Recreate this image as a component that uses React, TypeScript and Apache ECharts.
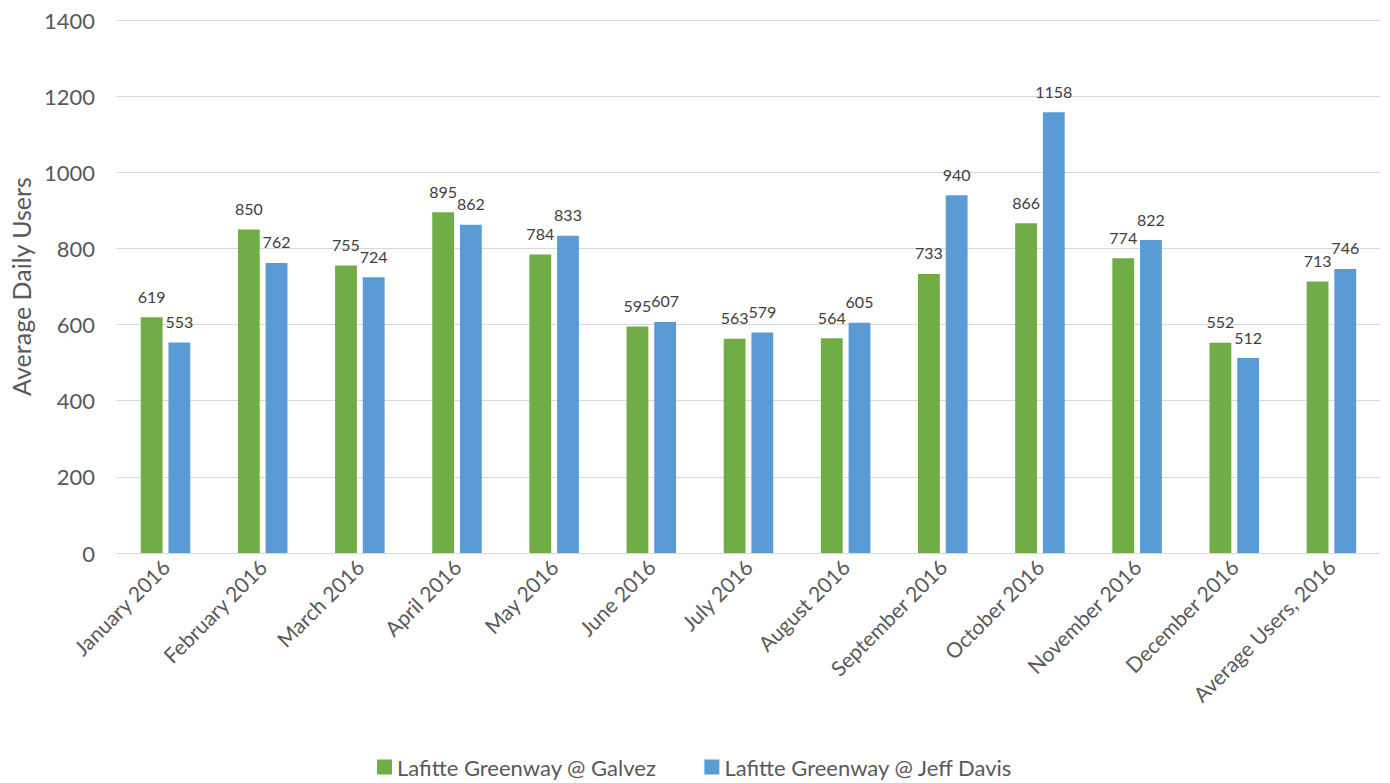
import React, { useEffect, useRef } from "react";
import * as echarts from "echarts";

const categories = [
  "January 2016", "February 2016", "March 2016", "April 2016", "May 2016", "June 2016",
  "July 2016", "August 2016", "September 2016", "October 2016", "November 2016",
  "December 2016", "Average Users, 2016",
];
const galvez = [619, 850, 755, 895, 784, 595, 563, 564, 733, 866, 774, 552, 713];
const jeffDavis = [553, 762, 724, 862, 833, 607, 579, 605, 940, 1158, 822, 512, 746];
const seriesNames = ["Lafitte Greenway @ Galvez", "Lafitte Greenway @ Jeff Davis"];
const yAxisName = "Average Daily Users";

const FONT = "Lato, 'Liberation Sans', sans-serif";

export default function App() {
  const ref = useRef<HTMLDivElement>(null);
  useEffect(() => {
    const chart = echarts.init(ref.current!, undefined, { renderer: "svg" });
    const label = {
      show: true,
      position: "top" as const,
      distance: 13,
      color: "#404040",
      fontSize: 16,
      fontFamily: FONT,
    };
    chart.setOption({
      animation: false,
      textStyle: { fontFamily: FONT },
      grid: { left: 114, right: 10, top: 20, bottom: 230, containLabel: false },
      legend: {
        bottom: 0,
        left: "center",
        itemWidth: 15,
        itemHeight: 15,
        itemGap: 48,
        itemStyle: { borderWidth: 0 },
        icon: "rect",
        textStyle: { color: "#595959", fontSize: 22, fontFamily: FONT },
        data: seriesNames,
      },
      xAxis: {
        type: "category",
        data: categories,
        axisLine: { lineStyle: { color: "#d9d9d9", width: 1 } },
        axisTick: { show: false },
        axisLabel: {
          rotate: 45,
          interval: 0,
          color: "#595959",
          fontSize: 21,
          fontFamily: FONT,
          margin: 10,
        },
      },
      yAxis: {
        type: "value",
        min: 0,
        max: 1400,
        interval: 200,
        name: yAxisName,
        nameLocation: "middle",
        nameGap: 80,
        nameTextStyle: { color: "#595959", fontSize: 25, fontFamily: FONT },
        axisLine: { show: false },
        axisTick: { show: false },
        axisLabel: {
          color: "#595959",
          fontSize: 22,
          fontFamily: FONT,
          margin: 22,
          formatter: (v: number) => String(v),
        },
        splitLine: { lineStyle: { color: "#d9d9d9", width: 1 } },
      },
      series: [
        {
          name: seriesNames[0],
          type: "bar",
          data: galvez,
          itemStyle: { color: "#70AD47" },
          barGap: "27%",
          barCategoryGap: "49%",
          label,
        },
        {
          name: seriesNames[1],
          type: "bar",
          data: jeffDavis,
          itemStyle: { color: "#5B9BD5" },
          barGap: "27%",
          barCategoryGap: "49%",
          label,
        },
      ],
    });
    return () => chart.dispose();
  }, []);
  return (
    <div
      ref={ref}
      style={{ position: "fixed", left: 0, top: 0, width: 1390, height: 783, background: "#fff" }}
    />
  );
}
